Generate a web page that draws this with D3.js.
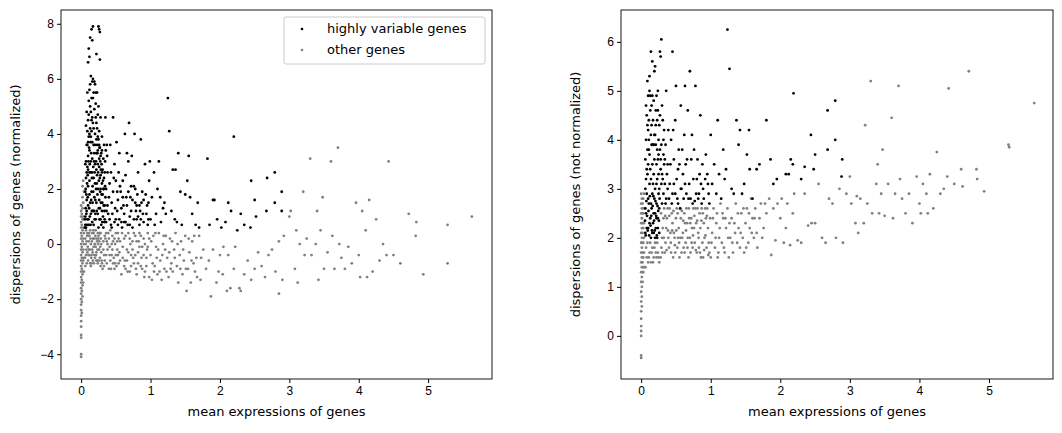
<!DOCTYPE html>
<html><head><meta charset="utf-8">
<script src="https://cdn.jsdelivr.net/npm/d3@7"></script>
<style>body{margin:0;background:#fff}svg{font-family:"DejaVu Sans",sans-serif}</style>
</head><body><svg id="c" width="1062" height="433"></svg>
<script>
// ---- Data ----
const xTicks = [0,1,2,3,4,5];
const yTicksLeft = [-4,-2,0,2,4,6,8];
const yTicksRight = [0,1,2,3,4,5,6];
const seriesNames = ["highly variable genes","other genes"];

const hvgLeft = [
[0.06,0.7],[0.08,1.2],[0.1,2.1],[0.12,3.4],[0.14,4.8],[0.16,5.9],[0.15,7.8],[0.17,7.9],[0.13,7.5],[0.16,7.4],[0.26,7.8],[0.27,7.7],[0.25,7.9],[0.22,6.9],[0.12,6.8],[0.11,7.1],[0.27,6.7],[0.1,6.6],
[0.11,5.2],[0.09,4.1],[0.07,3.0],[0.1,2.7],[0.12,1.8],[0.14,1.1],[0.16,0.8],[0.18,2.4],[0.2,3.6],[0.22,4.4],[0.24,2.9],[0.26,1.6],[0.28,0.9],[0.3,2.2],[0.32,3.1],[0.34,1.4],[0.36,0.8],[0.38,2.6],
[0.06,1.9],[0.07,2.4],[0.08,3.6],[0.09,2.8],[0.1,4.5],[0.11,3.9],[0.12,5.6],[0.13,4.2],[0.14,6.1],[0.15,5.3],[0.16,4.6],[0.17,6.0],[0.18,5.5],[0.19,4.9],[0.2,5.8],[0.21,5.1],[0.22,3.8],[0.23,5.5],[0.24,4.7],[0.25,5.0],[0.26,4.1],[0.27,3.5],[0.28,4.6],[0.29,3.3],[0.3,3.9],[0.31,2.7],
[0.06,1.0],[0.07,0.6],[0.08,1.6],[0.09,0.9],[0.1,1.4],[0.11,0.7],[0.12,2.3],[0.13,1.5],[0.14,2.6],[0.15,1.9],[0.16,3.1],[0.17,1.2],[0.18,0.7],[0.19,1.7],[0.2,2.2],[0.21,0.9],[0.22,1.5],[0.23,2.5],[0.24,1.1],[0.25,0.6],[0.26,2.8],[0.27,1.3],[0.28,2.0],[0.29,0.7],[0.3,1.2],[0.31,1.8],[0.32,0.6],[0.33,2.4],[0.34,0.9],[0.35,1.7],
[0.08,4.8],[0.1,3.2],[0.12,4.0],[0.14,3.0],[0.16,3.7],[0.18,4.2],[0.2,4.0],[0.22,2.7],[0.24,3.4],[0.26,3.1],[0.28,2.5],[0.3,3.4],[0.09,5.5],[0.13,5.0],[0.17,5.3],[0.21,4.6],[0.25,3.8],[0.07,4.3],[0.15,4.1],[0.19,3.3],[0.23,4.2],[0.27,2.4],
[0.055,0.9],[0.065,1.3],[0.075,1.8],[0.085,2.2],[0.095,2.5],[0.105,3.0],[0.115,3.5],[0.125,2.9],[0.135,3.7],[0.145,3.3],[0.155,2.4],[0.165,2.1],[0.175,2.8],[0.185,3.0],[0.195,2.6],[0.205,1.1],[0.215,2.0],[0.225,1.2],[0.235,1.8],[0.245,2.0],[0.255,1.3],[0.265,0.9],[0.275,1.9],[0.285,1.5],[0.295,2.9],[0.305,0.8],[0.315,2.3],[0.325,1.4],[0.335,0.8],[0.345,2.1],
[0.055,0.6],[0.065,2.0],[0.075,1.1],[0.085,0.7],[0.095,1.7],[0.105,0.9],[0.115,1.3],[0.125,1.0],[0.135,0.7],[0.145,1.6],[0.155,1.2],[0.165,1.5],[0.175,1.9],[0.185,1.2],[0.195,0.9],[0.205,1.6],[0.215,3.0],[0.225,2.2],[0.235,3.3],[0.245,2.6],[0.255,2.3],[0.265,3.5],[0.275,3.0],[0.285,2.7],[0.295,1.8],[0.305,1.5],[0.315,1.0],[0.325,2.0],[0.335,1.2],[0.345,3.0],
[0.06,2.9],[0.08,2.6],[0.1,3.7],[0.12,2.6],[0.14,3.9],[0.16,2.6],[0.18,3.6],[0.2,2.9],[0.22,3.3],[0.24,3.9],[0.26,3.6],[0.28,3.2],[0.3,2.6],[0.32,2.0],[0.34,2.6],[0.36,2.0],[0.38,1.4],[0.365,1.2],[0.375,3.2],[0.355,3.4],[0.11,4.7],[0.13,5.8],[0.15,4.5],[0.17,4.4],[0.19,5.9],[0.21,5.5],[0.23,3.6],[0.09,3.6],
[0.4,1.7],[0.42,3.6],[0.45,1.1],[0.46,4.6],[0.48,2.9],[0.5,0.9],[0.52,1.9],[0.51,3.7],[0.55,3.3],[0.58,1.3],[0.6,2.3],[0.62,0.8],[0.63,4.0],[0.65,1.7],[0.66,3.3],[0.68,3.0],[0.69,4.4],[0.7,1.0],[0.72,2.1],[0.73,3.2],[0.77,4.0],[0.78,1.5],[0.8,0.9],[0.82,2.6],[0.85,1.2],[0.86,3.8],[0.88,1.9],[0.9,0.8],[0.92,2.9],[0.95,1.4],[0.98,2.3],[0.99,3.0],
[0.37,3.6],[0.39,1.1],[0.41,2.2],[0.43,0.7],[0.44,1.5],[0.47,2.4],[0.49,1.3],[0.53,0.7],[0.54,2.6],[0.57,1.9],[0.59,0.6],[0.61,1.4],[0.64,2.5],[0.67,0.7],[0.71,1.7],[0.74,0.6],[0.76,2.1],[0.79,1.2],[0.81,1.8],[0.84,0.7],[0.87,1.5],[0.89,1.1],[0.93,1.8],[0.96,0.7],
[0.41,0.9],[0.43,2.6],[0.44,0.6],[0.46,1.9],[0.48,0.8],[0.5,2.3],[0.52,1.2],[0.53,1.6],[0.55,0.9],[0.56,2.1],[0.58,0.8],[0.6,1.7],[0.62,1.1],[0.64,0.8],[0.66,1.4],[0.68,1.9],[0.7,0.7],[0.72,1.2],[0.74,1.6],[0.76,0.9],[0.78,2.0],[0.8,1.4],[0.82,1.0],[0.84,1.4],[0.86,0.9],[0.9,1.6],[0.94,1.1],[0.97,1.5],
[1.0,0.9],[1.02,1.7],[1.05,2.6],[1.08,1.1],[1.1,2.0],[1.12,3.0],[1.15,0.8],[1.18,1.3],[1.2,1.5],[1.22,1.1],[1.25,5.3],[1.27,4.1],[1.3,1.2],[1.32,2.7],[1.35,0.9],[1.38,0.8],[1.4,3.3],[1.43,1.9],[1.45,0.7],[1.5,1.8],[1.53,2.3],[1.55,3.2],[1.57,1.7],[1.6,1.1],[1.65,0.7],[1.68,1.5],[1.7,0.6],[1.82,3.1],[1.85,0.7],[1.9,1.6],[1.92,1.6],[1.96,0.9],[2.02,0.6],[2.08,0.8],[2.12,1.5],[2.16,1.2],[2.2,3.9],[2.25,0.5],[2.3,1.1],[2.35,0.7],[2.45,2.3],[2.5,1.6],[2.52,1.0],[2.44,0.6],[2.68,2.4],[2.67,1.2],[2.79,2.6],[2.79,1.5],[2.89,1.9],[2.89,1.2],[1.36,2.7],[0.33,3.6],[0.35,4.6],[1.14,1.7],[1.06,0.7],[0.97,0.9]
];
const otherLeft = [
[0.0,-4.1],[0.0,-4.0],[0.0,-3.4],[0.0,-3.3],[0.0,-3.0],[0.0,-2.8],[0.0,-2.6],[0.0,-2.4],[0.0,-2.2],[0.0,-2.0],[0.0,-1.8],[0.0,-1.6],[0.0,-1.4],[0.0,-1.2],[0.0,-1.0],[0.0,-0.8],[0.0,-0.6],[0.0,-0.4],[0.0,-0.2],[0.0,0.0],[0.0,0.2],[0.0,0.4],[0.0,0.6],[0.0,0.8],[0.0,1.0],[0.0,1.2],[0.0,1.4],
[0.01,-2.5],[0.01,-2.1],[0.01,-1.7],[0.01,-1.3],[0.01,-0.9],[0.01,-0.5],[0.01,-0.1],[0.01,0.3],[0.01,0.7],[0.01,1.1],[0.02,-1.9],[0.02,-1.5],[0.02,-1.1],[0.02,-0.7],[0.02,-0.3],[0.02,0.1],[0.02,0.5],[0.02,0.9],[0.02,1.3],[0.02,1.7],[0.02,2.1],[0.03,-1.4],[0.03,-1.0],[0.03,-0.6],[0.03,-0.2],[0.03,0.2],[0.03,0.6],[0.03,1.0],[0.03,1.5],[0.03,2.3],[0.04,-1.0],[0.04,-0.5],[0.04,0.0],[0.04,0.4],[0.04,0.9],[0.04,1.9],
[0.06,-0.8],[0.07,-0.4],[0.08,0.1],[0.09,0.4],[0.1,-0.6],[0.11,-0.2],[0.12,0.3],[0.13,-0.7],[0.14,0.0],[0.15,-0.4],[0.16,0.4],[0.17,-0.6],[0.18,-0.1],[0.19,0.2],[0.2,-0.5],[0.21,0.5],[0.22,-0.3],[0.23,0.1],[0.24,-0.7],[0.25,0.3],[0.26,-0.2],[0.27,-0.5],[0.28,0.4],[0.29,0.0],[0.3,-0.7],
[0.06,0.2],[0.08,-0.7],[0.1,0.3],[0.12,-0.4],[0.14,-0.8],[0.16,-0.2],[0.18,0.4],[0.2,0.0],[0.22,-0.6],[0.24,0.4],[0.26,0.1],[0.28,-0.8],[0.07,0.5],[0.09,-0.3],[0.11,0.1],[0.13,0.5],[0.15,-0.7],[0.17,0.2],[0.19,-0.4],[0.21,-0.1],[0.23,-0.6],[0.25,0.2],[0.27,0.4],[0.29,-0.3],
[0.055,-0.5],[0.065,0.0],[0.075,-0.2],[0.085,0.3],[0.095,-0.1],[0.105,-0.4],[0.115,0.4],[0.125,-0.2],[0.135,0.2],[0.145,-0.5],[0.155,0.1],[0.165,-0.3],[0.175,0.5],[0.185,-0.7],[0.195,0.0],[0.205,0.3],[0.215,-0.4],[0.225,0.2],[0.235,-0.2],[0.245,0.0],[0.255,-0.6],[0.265,0.4],[0.275,-0.1],[0.285,0.2],[0.295,-0.6],
[0.32,-0.2],[0.34,0.3],[0.36,-0.4],[0.38,0.0],[0.4,0.2],[0.42,-0.6],[0.44,0.0],[0.46,-0.7],[0.48,0.2],[0.5,-0.4],[0.52,0.1],[0.54,-0.7],[0.56,0.1],[0.33,-0.8],[0.37,0.1],[0.41,-0.4],[0.45,-0.2],[0.49,-0.7],[0.53,-0.4],
[0.31,-0.9],[0.33,-0.4],[0.35,0.2],[0.37,-0.7],[0.39,0.4],[0.41,-0.1],[0.43,-0.9],[0.45,0.3],[0.47,-0.5],[0.49,0.0],[0.51,-0.8],[0.53,0.4],[0.55,-0.3],[0.32,0.1],[0.34,-0.6],[0.36,0.4],[0.38,-0.2],[0.4,-0.9],[0.42,0.5],[0.44,-0.4],[0.46,0.1],[0.48,-0.9],[0.5,0.4],[0.52,-0.2],[0.54,0.2],[0.56,-0.6],
[0.58,-1.1],[0.6,-0.5],[0.62,0.2],[0.64,-0.9],[0.66,-0.2],[0.68,0.4],[0.7,-1.0],[0.72,-0.4],[0.74,0.1],[0.76,-0.7],[0.78,0.3],[0.8,-1.1],[0.82,-0.3],[0.84,0.4],[0.86,-0.8],[0.88,-0.1],[0.9,0.2],[0.92,-1.0],[0.94,-0.5],[0.96,0.4],[0.98,-1.2],[0.59,0.4],[0.63,-0.6],[0.67,-1.0],[0.71,0.0],[0.75,-0.5],[0.79,-0.9],[0.83,0.1],[0.87,-0.5],[0.91,-1.2],[0.95,-0.2],
[0.6,-0.1],[0.62,-0.8],[0.64,0.3],[0.66,-0.6],[0.68,-0.3],[0.7,0.2],[0.72,-0.8],[0.74,-0.2],[0.76,0.4],[0.78,-0.4],[0.8,0.1],[0.82,-0.7],[0.84,-0.1],[0.86,0.3],[0.88,-0.9],[0.9,-0.4],[0.92,0.0],[0.94,-0.8],[0.96,-0.1],[0.98,0.2],
[1.0,-0.4],[1.02,-1.3],[1.04,0.3],[1.06,-0.8],[1.08,-0.1],[1.1,-1.1],[1.12,0.4],[1.14,-0.6],[1.16,-1.3],[1.18,0.0],[1.2,-0.9],[1.22,0.3],[1.24,-0.5],[1.26,-1.2],[1.28,0.2],[1.3,-0.7],[1.32,-1.0],[1.34,-0.2],[1.36,0.4],[1.38,-0.8],[1.4,-1.4],[1.42,-0.4],[1.44,0.1],[1.46,-1.1],[1.48,-0.6],[1.5,0.3],[1.52,-1.7],[1.54,-0.9],[1.56,-0.3],[1.58,-1.4],[1.6,0.1],[1.62,-0.7],[1.64,-1.0],[1.66,-0.5],[1.7,0.3],[1.72,-1.3],[1.76,-0.2],[1.8,-0.9],
[1.01,0.1],[1.03,-0.7],[1.05,-1.0],[1.07,0.4],[1.09,-0.5],[1.11,-0.2],[1.13,-1.0],[1.17,-0.4],[1.19,0.3],[1.21,-0.2],[1.23,-1.0],[1.27,-0.3],[1.29,-0.9],[1.31,0.1],[1.35,-0.5],[1.39,0.0],[1.43,-0.9],[1.47,-0.2],[1.51,-0.9],[1.55,0.2],[1.59,-0.6],[1.63,0.3],[1.67,-1.2],[1.73,-0.5],
[1.84,-0.6],[1.87,-1.9],[1.9,-0.2],[1.95,-1.4],[1.98,-1.0],[2.0,-0.4],[2.04,-1.1],[2.05,-0.1],[2.1,-1.7],[2.12,-0.4],[2.15,-1.6],[2.2,-0.9],[2.22,-0.1],[2.28,-1.6],[2.3,-1.7],[2.35,-1.1],[2.4,-0.6],[2.45,-1.3],[2.5,-0.9],[2.55,-0.3],[2.6,-0.8],[2.65,-1.2],[2.7,-0.4],[2.75,-0.2],[2.8,-1.0],[2.85,0.1],[2.9,-1.3],[2.92,0.3],[2.85,-1.8],
[3.0,1.0],[3.02,1.2],[3.08,-0.9],[3.1,0.5],[3.12,-1.4],[3.15,0.0],[3.2,1.9],[3.22,-0.4],[3.25,0.2],[3.3,3.1],[3.32,-0.4],[3.38,0.0],[3.4,1.2],[3.42,-1.3],[3.45,0.5],[3.48,1.7],[3.5,-0.9],[3.55,-0.3],[3.6,3.0],[3.62,0.3],[3.65,-0.9],[3.7,3.5],[3.72,0.0],[3.75,-0.5],[3.8,-0.9],[3.85,-0.1],[3.9,-0.7],[3.96,1.5],[4.0,-0.4],[4.02,-1.2],[4.05,1.2],[4.1,0.5],[4.12,-1.2],[4.15,1.6],[4.2,-1.0],[4.25,0.9],[4.3,-0.6],[4.35,0.0],[4.4,-0.4],[4.43,3.0],[4.5,-0.4],[4.6,-0.7],[4.72,1.1],[4.82,0.3],[4.83,0.8],[4.93,-1.1],[5.28,0.7],[5.28,-0.7],[5.63,1.0]
];
const hvgRight = [
[0.06,2.1],[0.07,2.5],[0.08,2.9],[0.09,3.3],[0.1,2.2],[0.11,2.7],[0.12,3.1],[0.13,2.4],[0.14,2.0],[0.15,2.6],[0.16,2.9],[0.17,2.3],[0.18,2.1],[0.19,2.8],[0.2,2.5],[0.21,2.2],[0.22,2.7],[0.23,2.0],[0.24,2.4],[0.25,2.9],[0.26,2.1],[0.06,2.6],[0.08,2.2],[0.1,2.8],[0.12,2.3],[0.14,2.7],[0.16,2.1],[0.18,2.5],[0.2,2.0],[0.22,2.4],[0.24,2.2],[0.26,2.6],
[0.055,2.35],[0.065,2.05],[0.075,2.75],[0.085,2.45],[0.095,2.15],[0.105,2.55],[0.115,2.05],[0.125,2.85],[0.135,2.25],[0.145,2.45],[0.155,2.15],[0.165,2.65],[0.175,2.85],[0.185,2.35],[0.195,2.15],[0.205,2.75],[0.215,2.45],[0.225,2.05],[0.235,2.65],[0.245,2.55],[0.255,2.35],[0.265,2.8],
[0.06,3.6],[0.07,4.0],[0.08,4.5],[0.09,5.2],[0.1,4.2],[0.11,3.8],[0.12,5.0],[0.13,4.6],[0.14,5.8],[0.15,4.3],[0.16,5.6],[0.17,3.9],[0.18,4.8],[0.19,5.4],[0.2,4.1],[0.21,4.6],[0.22,3.5],[0.23,4.4],[0.24,5.0],[0.25,3.7],[0.26,4.3],[0.27,5.8],[0.28,3.4],[0.29,6.05],[0.3,4.7],[0.31,3.2],[0.32,4.0],[0.34,3.6],[0.36,5.0],[0.38,3.0],
[0.07,3.2],[0.09,3.8],[0.11,4.4],[0.13,3.4],[0.15,3.9],[0.17,3.1],[0.19,3.6],[0.21,3.9],[0.23,3.2],[0.25,3.3],[0.27,3.8],[0.29,3.1],[0.3,2.7],[0.32,2.9],[0.33,3.5],[0.35,2.7],[0.37,3.3],[0.39,4.2],[0.4,2.8],[0.12,5.3],[0.16,4.9],[0.2,5.5],[0.24,4.6],[0.28,5.7],[0.1,4.9],[0.14,4.1],[0.18,3.3],[0.22,4.9],
[0.06,3.0],[0.08,3.4],[0.1,3.5],[0.12,3.7],[0.14,3.2],[0.16,3.5],[0.18,3.9],[0.2,3.0],[0.22,3.1],[0.24,3.6],[0.26,3.0],[0.28,3.6],[0.3,3.3],[0.32,3.7],[0.34,3.1],[0.36,2.8],[0.38,3.5],[0.07,4.7],[0.09,4.3],[0.11,4.0],[0.13,4.9],[0.15,4.7],[0.17,4.4],[0.19,4.1],[0.21,4.3],[0.23,3.8],[0.25,4.0],[0.27,4.5],[0.29,3.9],[0.31,4.4],[0.33,4.2],[0.35,3.9],
[0.42,3.5],[0.44,2.7],[0.45,5.8],[0.47,3.1],[0.5,5.1],[0.52,2.8],[0.54,3.8],[0.56,2.6],[0.57,4.7],[0.6,3.3],[0.62,4.1],[0.63,5.1],[0.65,2.9],[0.67,4.6],[0.7,5.4],[0.72,3.6],[0.74,2.7],[0.76,3.8],[0.78,5.1],[0.8,3.2],[0.82,2.8],[0.85,4.5],[0.88,3.5],[0.9,2.8],[0.93,3.7],[0.96,3.1],[0.98,2.7],
[0.46,4.2],[0.49,2.9],[0.53,3.4],[0.58,3.0],[0.64,3.5],[0.68,2.8],[0.73,4.1],[0.79,2.9],[0.84,3.3],[0.87,2.7],[0.95,3.3],
[0.41,3.1],[0.43,4.0],[0.45,2.9],[0.47,3.6],[0.49,4.4],[0.51,3.2],[0.53,2.7],[0.55,3.5],[0.57,3.0],[0.59,3.8],[0.61,2.8],[0.63,3.1],[0.66,3.6],[0.69,3.1],[0.71,2.8],[0.75,3.2],[0.77,2.75],[0.81,3.6],[0.83,2.9],[0.86,3.1],[0.89,3.0],[0.92,3.2],[0.97,2.9],
[1.0,4.1],[1.02,3.1],[1.05,3.5],[1.08,2.9],[1.1,4.4],[1.12,3.3],[1.15,2.8],[1.18,3.8],[1.2,3.2],[1.22,3.4],[1.24,6.25],[1.27,5.45],[1.3,3.0],[1.33,2.9],[1.37,4.4],[1.4,3.9],[1.42,4.2],[1.45,2.9],[1.48,3.1],[1.52,3.7],[1.55,4.2],[1.56,3.4],[1.6,2.8],[1.66,3.4],[1.7,3.5],[1.8,4.4],[1.86,3.6],[1.9,3.1],[1.95,3.2],[2.08,3.3],[2.12,3.3],[2.15,3.6],[2.18,3.5],[2.19,4.95],[2.3,3.2],[2.35,3.45],[2.44,4.1],[2.48,3.4],[2.5,3.7],[2.68,4.6],[2.68,3.8],[2.79,4.8],[2.79,4.0],[2.89,3.6],[2.88,3.25]
];
const otherRight = [
[0.0,-0.45],[0.0,-0.4],[0.0,0.0],[0.0,0.1],[0.0,0.2],[0.0,0.35],[0.0,0.5],[0.0,0.7],[0.0,0.9],[0.0,1.1],[0.0,1.3],[0.0,1.5],[0.0,1.7],[0.0,1.9],[0.0,2.1],[0.0,2.3],[0.0,2.5],[0.0,2.7],[0.0,2.9],
[0.01,0.6],[0.01,0.8],[0.01,1.0],[0.01,1.2],[0.01,1.4],[0.01,1.6],[0.01,1.8],[0.01,2.0],[0.01,2.2],[0.01,2.4],[0.01,2.6],[0.01,2.8],[0.02,1.1],[0.02,1.3],[0.02,1.5],[0.02,1.7],[0.02,1.9],[0.02,2.1],[0.02,2.3],[0.02,2.5],[0.02,2.7],[0.03,1.3],[0.03,1.6],[0.03,1.9],[0.03,2.2],[0.03,2.5],[0.03,2.8],[0.04,1.4],[0.04,1.7],[0.04,2.0],[0.04,2.3],[0.04,2.6],[0.04,2.9],
[0.06,1.4],[0.08,1.6],[0.1,1.5],[0.12,1.7],[0.14,1.5],[0.16,1.8],[0.18,1.6],[0.2,1.9],[0.22,1.6],[0.24,1.7],[0.26,1.5],[0.07,1.8],[0.09,1.9],[0.11,1.6],[0.13,1.9],[0.15,1.7],[0.17,1.5],[0.19,1.8],[0.21,1.7],[0.23,1.9],[0.25,1.6],
[0.28,1.6],[0.3,2.0],[0.32,2.4],[0.34,1.7],[0.36,2.2],[0.38,2.6],[0.4,1.8],[0.42,2.1],[0.44,2.5],[0.46,1.6],[0.48,2.0],[0.5,2.4],[0.52,1.8],[0.54,2.2],[0.56,2.6],[0.58,1.7],[0.6,2.1],[0.62,2.5],[0.64,1.9],[0.66,2.3],[0.68,1.6],[0.7,2.0],[0.72,2.4],[0.74,1.8],[0.76,2.2],[0.78,2.6],[0.8,1.7],[0.82,2.1],[0.84,2.5],[0.86,1.6],[0.88,1.9],[0.9,2.3],[0.92,2.6],[0.94,1.8],[0.96,2.2],[0.98,1.7],
[0.29,1.8],[0.31,2.2],[0.33,2.6],[0.35,1.9],[0.37,2.4],[0.39,2.0],[0.41,2.6],[0.43,1.7],[0.45,2.3],[0.47,2.1],[0.49,1.7],[0.51,2.6],[0.53,2.0],[0.55,1.6],[0.57,2.4],[0.59,2.0],[0.61,1.8],[0.63,2.3],[0.65,2.6],[0.67,2.0],[0.69,2.4],[0.71,1.7],[0.73,2.2],[0.75,2.6],[0.77,1.9],[0.79,2.3],[0.81,2.6],[0.83,1.8],[0.85,2.2],[0.87,2.6],[0.89,1.6],[0.91,2.0],[0.93,2.4],[0.95,2.6],[0.97,1.9],[0.99,2.4],
[0.285,2.5],[0.305,1.7],[0.325,2.0],[0.345,2.45],[0.365,1.75],[0.385,2.15],[0.405,2.45],[0.425,1.9],[0.445,2.15],[0.465,2.55],[0.485,1.85],[0.505,2.15],[0.525,2.5],[0.545,1.9],[0.565,2.0],[0.585,2.55],[0.605,2.35],[0.625,1.7],[0.645,2.15],[0.665,1.8],[0.685,2.6],[0.705,2.3],[0.725,1.9],[0.745,2.05],[0.765,2.45],[0.785,1.75],[0.805,2.35],[0.825,2.0],[0.845,1.7],[0.865,2.35],[0.885,2.5],[0.905,1.75],[0.925,2.05],[0.945,2.45],[0.965,1.65],
[1.0,1.6],[1.02,2.1],[1.04,2.6],[1.06,1.8],[1.08,2.3],[1.1,1.6],[1.12,2.0],[1.14,2.7],[1.16,1.9],[1.18,2.4],[1.2,1.7],[1.22,2.2],[1.24,2.6],[1.26,1.6],[1.28,2.0],[1.3,2.4],[1.32,1.7],[1.34,2.3],[1.36,2.7],[1.38,1.9],[1.4,2.2],[1.42,1.8],[1.44,2.5],[1.46,2.0],[1.48,1.7],[1.5,2.3],[1.52,2.6],[1.54,1.9],[1.56,2.2],[1.58,2.8],[1.6,2.4],[1.62,2.0],[1.64,2.6],[1.66,2.1],[1.7,2.4],[1.72,2.7],[1.76,2.2],[1.8,2.5],[1.84,2.8],[1.87,1.65],[1.9,2.6],[1.93,1.95],[1.96,2.7],[2.0,2.4],[2.02,2.8],[2.05,1.9],[2.08,2.2],[2.1,2.7],[2.14,1.85],[2.18,2.5],[2.2,2.9],[2.25,1.95],[2.3,1.9],[2.35,2.9],[2.4,2.25],[2.45,2.3],[2.5,2.3],[2.55,3.1],[2.6,2.0],[2.65,1.9],[2.7,2.8],[2.75,2.7],[2.8,2.0],[2.85,3.0],[2.9,1.9],[2.95,2.9],
[1.01,1.9],[1.03,2.4],[1.07,2.0],[1.09,2.5],[1.11,1.7],[1.13,2.2],[1.17,2.5],[1.19,1.8],[1.21,2.4],[1.25,2.0],[1.27,2.3],[1.31,1.9],[1.35,2.1],[1.39,2.5],[1.43,2.1],[1.47,2.6],[1.51,1.8],[1.55,2.5],[1.59,2.1],[1.63,2.4],[1.67,1.8],[1.74,2.0],[1.78,2.7],
[3.0,3.25],[3.02,2.7],[3.08,2.3],[3.1,2.85],[3.12,2.1],[3.15,2.8],[3.2,2.3],[3.22,4.3],[3.25,2.7],[3.3,5.2],[3.32,2.5],[3.38,3.1],[3.4,3.5],[3.42,2.5],[3.45,2.9],[3.47,3.8],[3.5,2.45],[3.55,3.1],[3.6,4.45],[3.62,2.4],[3.65,2.9],[3.7,5.1],[3.72,3.2],[3.75,2.8],[3.8,2.5],[3.85,2.9],[3.9,2.3],[3.96,3.25],[4.0,2.7],[4.02,2.5],[4.05,3.1],[4.1,2.9],[4.12,2.5],[4.15,3.3],[4.2,2.6],[4.25,3.75],[4.3,2.9],[4.35,3.0],[4.4,3.25],[4.42,5.05],[4.5,3.1],[4.6,3.4],[4.62,3.05],[4.71,5.4],[4.82,3.4],[4.83,3.2],[4.93,2.95],[5.28,3.9],[5.29,3.85],[5.65,4.75]
];

// ---- Drawing ----
const svg = d3.select("#c");
const HVG = "#000000", OTHER = "#808080";
const R = 1.4;

function panel(x0, x1, yDomain, yTicks, ylabel, hvg, other, legend) {
  const top = 10, bottom = 379;
  const x = d3.scaleLinear().domain([-0.29, 5.92]).range([x0, x1]);
  const y = d3.scaleLinear().domain(yDomain).range([bottom, top]);
  const g = svg.append("g");
  g.append("g").selectAll("circle").data(other).join("circle")
    .attr("cx", d => x(d[0])).attr("cy", d => y(d[1])).attr("r", R).attr("fill", OTHER);
  g.append("g").selectAll("circle").data(hvg).join("circle")
    .attr("cx", d => x(d[0])).attr("cy", d => y(d[1])).attr("r", R).attr("fill", HVG);
  const xa = g.append("g").attr("transform", `translate(0,${bottom})`)
    .call(d3.axisBottom(x).tickValues(xTicks).tickSize(4).tickPadding(3).tickFormat(d3.format("d")));
  const ya = g.append("g").attr("transform", `translate(${x0},0)`)
    .call(d3.axisLeft(y).tickValues(yTicks).tickSize(4).tickPadding(3).tickFormat(d => d < 0 ? "\u2212" + Math.abs(d) : String(d)));
  [xa, ya].forEach(a => { a.select(".domain").remove(); a.selectAll("text").attr("font-size", 12).attr("fill", "#000"); a.selectAll("line").attr("stroke", "#000"); });
  g.append("rect").attr("x", x0).attr("y", top).attr("width", x1 - x0).attr("height", bottom - top)
    .attr("fill", "none").attr("stroke", "#000").attr("stroke-width", 0.9);
  g.append("text").attr("x", (x0 + x1) / 2).attr("y", 416).attr("text-anchor", "middle").attr("font-size", 13).text("mean expressions of genes");
  g.append("text").attr("transform", `translate(${x0 - 41},${(top + bottom) / 2}) rotate(-90)`).attr("text-anchor", "middle").attr("font-size", 13).text(ylabel);
  if (legend) {
    const lg = g.append("g");
    lg.append("rect").attr("x", 284).attr("y", 17).attr("width", 201).attr("height", 47).attr("rx", 2)
      .attr("fill", "#fff").attr("fill-opacity", 0.8).attr("stroke", "#ccc");
    seriesNames.forEach((n, i) => {
      lg.append("circle").attr("cx", 302).attr("cy", 29 + i * 21).attr("r", 1.3).attr("fill", i ? OTHER : HVG);
      lg.append("text").attr("x", 327).attr("y", 33 + i * 21).attr("font-size", 13).text(n);
    });
  }
}
panel(61, 492, [-4.9, 8.5], yTicksLeft, "dispersions of genes (normalized)", hvgLeft, otherLeft, true);
panel(621, 1053, [-0.88, 6.65], yTicksRight, "dispersions of genes (not normalized)", hvgRight, otherRight, false);
</script></body></html>
